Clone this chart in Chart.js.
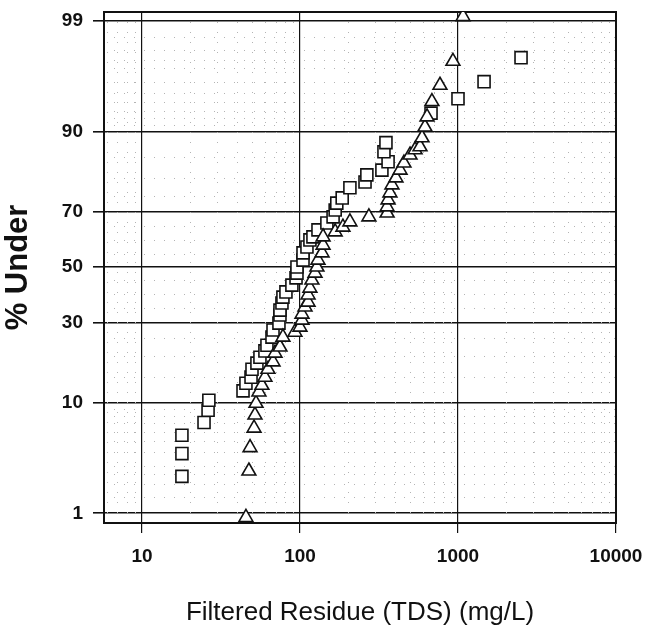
<!DOCTYPE html>
<html>
<head>
<meta charset="utf-8">
<script src="https://cdn.jsdelivr.net/npm/chart.js@4.4.0/dist/chart.umd.min.js"></script>
<style>
  html, body { margin: 0; padding: 0; background: #fff; }
</style>
</head>
<body>
<canvas id="myChart" width="645" height="635"></canvas>
<script>
// squares
const squareTds = [17.9, 17.9, 17.9, 24.7, 26.2, 26.5, 43.6, 45.5, 49.0, 49.7, 53.4, 55.8, 60.0, 61.8, 66.5, 67.5,
  73.6, 74.7, 74.7, 76.9, 78.0, 81.5, 88.9, 94.4, 95.7, 95.7, 104.5, 104.5, 110.7, 115.6, 120.8, 130,
  148, 162, 167, 171, 185, 207, 258, 265, 330, 361, 340, 350, 675, 1000, 1462, 2506];
const squarePct = [2.4, 3.9, 5.6, 7.1, 8.8, 10.4, 12.1, 13.6, 14.9, 16.7, 18.2, 19.7, 21.4, 23.0, 25.4, 27.6,
  29.8, 32.5, 34.2, 36.7, 38.8, 40.7, 43.2, 45.9, 47.7, 50.0, 52.6, 55.3, 57.5, 60.1, 61.2, 63.7,
  66.1, 68.2, 70.5, 72.7, 74.3, 77.3, 78.9, 80.8, 82.0, 84.0, 86.2, 88.0, 92.7, 94.4, 96.0, 97.6];

// triangles
const triangleTds = [45.5, 47.5, 48.3, 51.2, 51.9, 52.7, 55.0, 57.4, 60.0, 62.7, 67.5, 69.5, 74.7, 78.0, 92.9, 100,
  103, 103, 107.6, 112.5, 112.5, 115.6, 119, 124.5, 128, 130, 138, 140, 140, 167, 187, 207,
  273, 356, 356, 361, 371, 382, 405, 430, 455, 497, 535, 575, 592, 618, 637, 684, 769, 929, 1076];
const trianglePct = [0.9, 2.7, 4.4, 6.4, 8.1, 9.9, 11.9, 13.2, 14.9, 16.7, 18.5, 20.8, 22.5, 25.4, 26.9, 28.5,
  30.8, 32.8, 35.3, 37.0, 39.6, 42.1, 45.1, 47.7, 50.0, 52.6, 55.3, 58.2, 61.2, 63.0, 64.7, 66.5,
  68.2, 69.5, 71.5, 73.7, 75.8, 78.1, 80.0, 82.0, 83.7, 85.5, 86.6, 87.2, 88.9, 90.7, 92.2, 94.1, 95.7, 97.4, 99.1];

const xTicks = [10, 100, 1000, 10000];
const xMinorTicks = [6, 7, 8, 9, 20, 30, 40, 50, 60, 70, 80, 90, 200, 300, 400, 500, 600, 700, 800, 900,
  2000, 3000, 4000, 5000, 6000, 7000, 8000, 9000];
const yTicks = [1, 10, 30, 50, 70, 90, 99];
const yMinorTicks = [1.5, 2, 2.5, 3, 4, 5, 6, 7, 8, 9, 15, 20, 25, 35, 40, 45, 55, 60, 65, 75, 80, 85,
  91, 92, 93, 94, 95, 96, 97, 97.5, 98, 98.5];

// inverse normal (Acklam), percent in -> z out
function probit(pct) {
  const p = pct / 100;
  const a = [-3.969683028665376e+01, 2.209460984245205e+02, -2.759285104469687e+02, 1.383577518672690e+02, -3.066479806614716e+01, 2.506628277459239e+00];
  const b = [-5.447609879822406e+01, 1.615858368580409e+02, -1.556989798598866e+02, 6.680131188771972e+01, -1.328068155288572e+01];
  const c = [-7.784894002430293e-03, -3.223964580411365e-01, -2.400758277161838e+00, -2.549732539343734e+00, 4.374664141464968e+00, 2.938163982698783e+00];
  const d = [7.784695709041462e-03, 3.224671290700398e-01, 2.445134137142996e+00, 3.754408661907416e+00];
  const plow = 0.02425;
  let q, r;
  if (p < plow) {
    q = Math.sqrt(-2 * Math.log(p));
    return (((((c[0]*q+c[1])*q+c[2])*q+c[3])*q+c[4])*q+c[5]) / ((((d[0]*q+d[1])*q+d[2])*q+d[3])*q+1);
  }
  if (p > 1 - plow) {
    q = Math.sqrt(-2 * Math.log(1 - p));
    return -(((((c[0]*q+c[1])*q+c[2])*q+c[3])*q+c[4])*q+c[5]) / ((((d[0]*q+d[1])*q+d[2])*q+d[3])*q+1);
  }
  q = p - 0.5;
  r = q * q;
  return (((((a[0]*r+a[1])*r+a[2])*r+a[3])*r+a[4])*r+a[5])*q / (((((b[0]*r+b[1])*r+b[2])*r+b[3])*r+b[4])*r+1);
}

function toPoints(xs, ps) {
  return xs.map((x, i) => ({ x: x, y: probit(ps[i]) }));
}

// dotted minor grid + box frame
const minorGrid = {
  id: 'minorGrid',
  beforeDatasetsDraw(chart) {
    const { ctx, chartArea: a, scales } = chart;
    ctx.save();
    ctx.strokeStyle = '#b4b4b4';
    ctx.lineWidth = 1;
    ctx.setLineDash([1, 9]);
    xMinorTicks.forEach(v => {
      const px = Math.round(scales.x.getPixelForValue(v)) + 0.5;
      if (px <= a.left || px >= a.right) return;
      ctx.beginPath();
      ctx.moveTo(px, a.top);
      ctx.lineTo(px, a.bottom);
      ctx.stroke();
    });
    yMinorTicks.forEach(p => {
      const py = Math.round(scales.y.getPixelForValue(probit(p))) + 0.5;
      ctx.beginPath();
      ctx.moveTo(a.left, py);
      ctx.lineTo(a.right, py);
      ctx.stroke();
    });
    ctx.setLineDash([]);
    ctx.strokeStyle = '#111';
    ctx.lineWidth = 2;
    ctx.strokeRect(a.left, a.top, a.right - a.left, a.bottom - a.top);
    ctx.restore();
  }
};

const tickFont = { family: '"Liberation Sans", Arial, sans-serif', size: 19, weight: 'bold' };

new Chart('myChart', {
  type: 'scatter',
  data: {
    datasets: [{
      label: 'squares',
      data: toPoints(squareTds, squarePct),
      pointStyle: 'rect',
      pointRadius: 8.5,
      borderColor: '#111',
      backgroundColor: '#fff',
      borderWidth: 1.6,
      order: 2
    }, {
      label: 'triangles',
      data: toPoints(triangleTds, trianglePct),
      pointStyle: 'triangle',
      pointRadius: 8,
      borderColor: '#111',
      backgroundColor: '#fff',
      borderWidth: 1.6,
      order: 1
    }]
  },
  options: {
    responsive: false,
    animation: false,
    layout: { padding: { top: 12, right: 29, left: 0, bottom: 0 } },
    plugins: { legend: { display: false }, tooltip: { enabled: false } },
    scales: {
      x: {
        type: 'logarithmic',
        min: 5.75,
        max: 10000,
        afterBuildTicks: axis => { axis.ticks = xTicks.map(v => ({ value: v })); },
        afterFit: axis => { axis.height = 112; axis.paddingLeft = 0; axis.paddingRight = 0; },
        ticks: {
          color: '#111',
          font: tickFont,
          padding: 12,
          maxRotation: 0,
          autoSkip: false,
          callback: v => String(v)
        },
        grid: { color: '#111', lineWidth: 1.2, tickLength: 10, drawTicks: true },
        border: { display: true, color: '#111', width: 2 },
        title: {
          display: true,
          text: 'Filtered Residue (TDS) (mg/L)',
          color: '#111',
          font: { family: '"Liberation Sans", Arial, sans-serif', size: 26 },
          padding: { top: 0, bottom: 7 }
        }
      },
      y: {
        type: 'linear',
        min: probit(0.78),
        max: probit(99.2),
        afterBuildTicks: axis => { axis.ticks = yTicks.map(p => ({ value: probit(p) })); },
        afterFit: axis => { axis.width = 104; axis.paddingTop = 0; axis.paddingBottom = 0; },
        ticks: {
          color: '#111',
          font: tickFont,
          padding: 10,
          autoSkip: false,
          callback: (v, i) => String(yTicks[i])
        },
        grid: { color: '#111', lineWidth: 1.6, tickLength: 11, drawTicks: true },
        border: { display: true, color: '#111', width: 2 },
        title: {
          display: true,
          text: '% Under',
          color: '#111',
          font: { family: '"Liberation Sans", Arial, sans-serif', size: 31, weight: 'bold' },
          padding: { top: 0, bottom: 0 }
        }
      }
    }
  },
  plugins: [minorGrid]
});
</script>
</body>
</html>
